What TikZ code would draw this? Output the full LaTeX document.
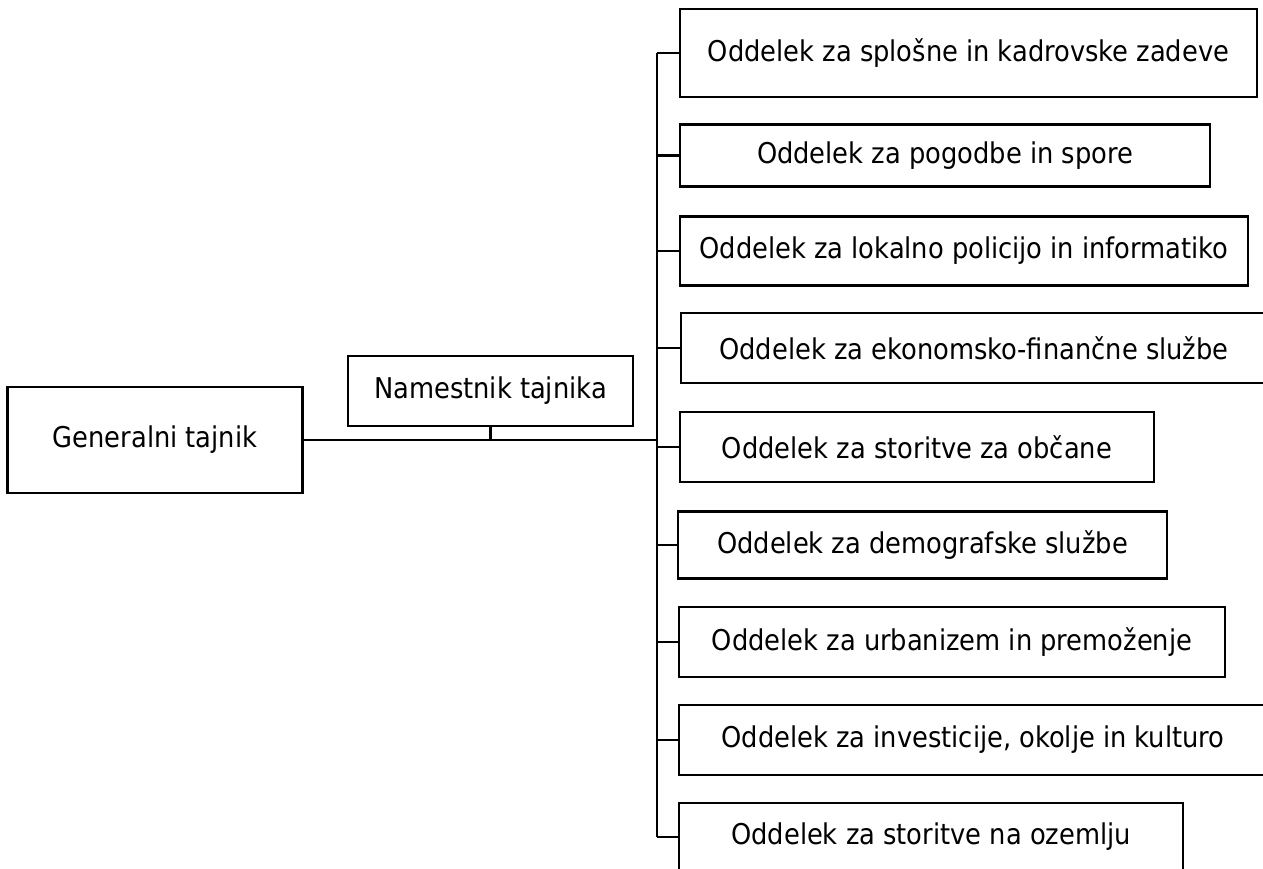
\documentclass[tikz,border=0pt]{standalone}
\usepackage{fontspec}
\setmainfont{DejaVu Sans Condensed}
\begin{document}
\begin{tikzpicture}[x=1pt,y=-1pt,
  box/.style={draw=black, line width=2.6pt, inner sep=0pt, align=center,
    font=\fontsize{28.6}{34}\selectfont},
  conn/.style={draw=black, line width=2.6pt}]
\useasboundingbox (0,0) rectangle (1263,868);
% left boxes
\node[box, minimum width=295pt, minimum height=106pt] (g) at (155,440) {Generalni tajnik};
\node[box, minimum width=285pt, minimum height=70pt] (n) at (490.5,391) {Namestnik tajnika};
% right boxes
\node[box, minimum width=577pt, minimum height=88pt] (b1) at (968.5,53) {Oddelek za splošne in kadrovske zadeve};
\node[box, minimum width=530pt, minimum height=62pt] (b2) at (945,155.5) {Oddelek za pogodbe in spore};
\node[box, minimum width=568pt, minimum height=69pt] (b3) at (964,251) {Oddelek za lokalno policijo in informatiko};
\node[box, minimum width=586pt, minimum height=70pt] (b4) at (974,348) {Oddelek za ekonomsko-finančne službe};
\node[box, minimum width=474pt, minimum height=70pt] (b5) at (917,447) {Oddelek za storitve za občane};
\node[box, minimum width=489pt, minimum height=67pt] (b6) at (922.5,545) {Oddelek za demografske službe};
\node[box, minimum width=546pt, minimum height=70pt] (b7) at (952,642) {Oddelek za urbanizem in premoženje};
\node[box, minimum width=588pt, minimum height=70pt] (b8) at (973,740) {Oddelek za investicije, okolje in kulturo};
\node[box, minimum width=504pt, minimum height=68pt] (b9) at (931,837) {Oddelek za storitve na ozemlju};
% trunk
\coordinate (ttop) at (657,53);
\coordinate (tbot) at (657,837);
\coordinate (tmid) at (657,440);
\draw[conn] (ttop) -- (tbot);
\draw[conn] (g.east) -- (tmid);
\draw[conn] (n.south) -- (n.south |- tmid);
\foreach \b in {b1,b2,b3,b4,b5,b6,b7,b8,b9}
  \draw[conn] (\b.west) -- (\b.west -| ttop);
\end{tikzpicture}
\end{document}
